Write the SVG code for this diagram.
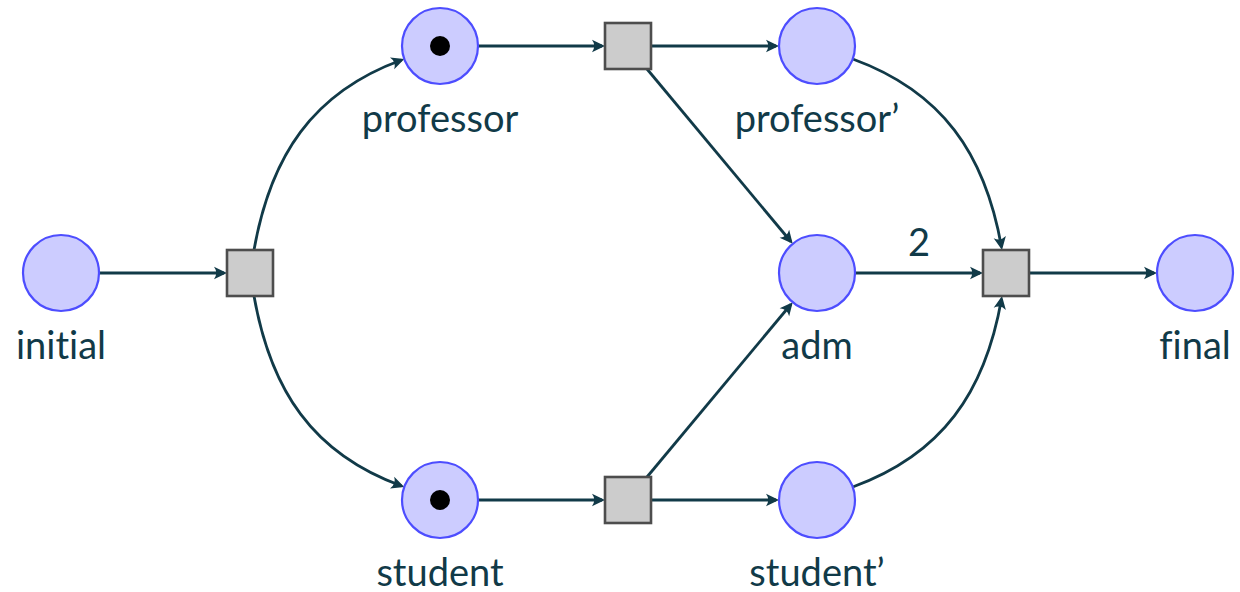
<svg xmlns="http://www.w3.org/2000/svg" width="1240" height="592" viewBox="0 0 1240 592">
  <defs>
    <marker id="tip" markerUnits="userSpaceOnUse" markerWidth="22" markerHeight="22" viewBox="-17 -9 22 18" refX="-3" refY="0" orient="auto">
      <path d="M0,0 L-13,-6.2 Q-8.5,0 -13,6.2 Z" fill="#113a48"/>
    </marker>
    <style>
      .place { fill: #ccccff; stroke: #4d4dff; stroke-width: 2.2; }
      .trans { fill: #cccccc; stroke: #4d4d4d; stroke-width: 2.6; }
      .token { fill: #000000; }
      .lbl { font-family: Lato, "Liberation Sans", sans-serif; font-size: 38px; fill: #113a48; text-anchor: middle; font-variant-ligatures: none; font-feature-settings: "liga" 0; }
      .arc { fill: none; stroke: #113a48; stroke-width: 2.8; marker-end: url(#tip); }
    </style>
  </defs>
  <rect width="1240" height="592" fill="#ffffff"/>

  <!-- arcs -->
  <g id="connectors">
    <path class="arc" d="M99,273 H224"/>
    <path class="arc" d="M478,46 H602"/>
    <path class="arc" d="M651,46 H776"/>
    <path class="arc" d="M478,500 H602"/>
    <path class="arc" d="M651,500 H776"/>
    <path class="arc" d="M855,273 H980"/>
    <path class="arc" d="M1029,273 H1154"/>
    <path class="arc" d="M647,69 L790.8,241.5"/>
    <path class="arc" d="M647,477 L790.8,304.5"/>
    <path class="arc" d="M254,250 C270.5,156.4 312.2,92.5 401.5,60"/>
    <path class="arc" d="M254,296 C270.5,389.6 312.2,453.5 401.5,486"/>
    <path class="arc" d="M852.7,59 C942,91.5 985,153.4 1001.5,247"/>
    <path class="arc" d="M852.7,487 C942,454.5 985,392.6 1001.5,299"/>
    <text class="lbl" x="919" y="256">2</text>
  </g>

  <!-- places -->
  <g id="initial">
    <circle class="place" cx="61" cy="273" r="38"/>
    <text class="lbl" x="61" y="359">initial</text>
  </g>
  <g id="professor">
    <circle class="place" cx="440" cy="46" r="38"/>
    <circle class="token" cx="440" cy="46" r="10"/>
    <text class="lbl" x="440" y="132">professor</text>
  </g>
  <g id="student">
    <circle class="place" cx="440" cy="500" r="38"/>
    <circle class="token" cx="440" cy="500" r="10"/>
    <text class="lbl" x="440" y="586">student</text>
  </g>
  <g id="professor-done">
    <circle class="place" cx="817" cy="46" r="38"/>
    <text class="lbl" x="817" y="132">professor’</text>
  </g>
  <g id="adm">
    <circle class="place" cx="817" cy="273" r="38"/>
    <text class="lbl" x="817" y="359">adm</text>
  </g>
  <g id="student-done">
    <circle class="place" cx="817" cy="500" r="38"/>
    <text class="lbl" x="817" y="586">student’</text>
  </g>
  <g id="final">
    <circle class="place" cx="1195" cy="273" r="38"/>
    <text class="lbl" x="1195" y="359">final</text>
  </g>

  <!-- transitions -->
  <g id="t-split">
    <rect class="trans" x="227" y="250" width="46" height="46"/>
  </g>
  <g id="t-professor">
    <rect class="trans" x="605" y="23" width="46" height="46"/>
  </g>
  <g id="t-student">
    <rect class="trans" x="605" y="477" width="46" height="46"/>
  </g>
  <g id="t-join">
    <rect class="trans" x="983" y="250" width="46" height="46"/>
  </g>
</svg>
